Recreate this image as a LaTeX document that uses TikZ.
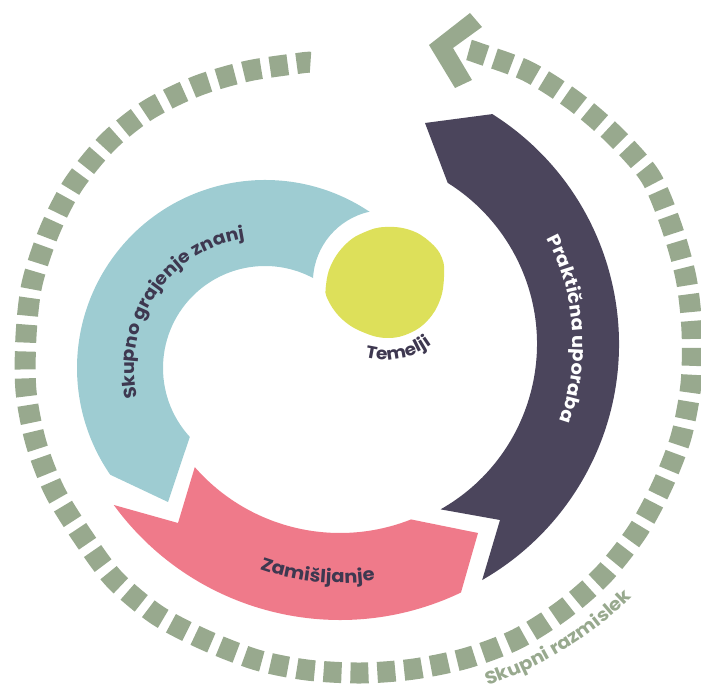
\documentclass[tikz,border=0pt]{standalone}
\usepackage{fontspec}
\newfontfamily\pop{Poppins}[FakeStretch=1.08]
\usetikzlibrary{decorations.text,calc}
\definecolor{sage}{HTML}{98A98E}
\definecolor{darkp}{HTML}{4B455C}
\definecolor{bluec}{HTML}{9ECCD2}
\definecolor{pinkc}{HTML}{EF7A8A}
\definecolor{yel}{HTML}{DDE05A}
\definecolor{txt}{HTML}{3E3850}
\tikzset{
  dashring/.style={draw=sage, line width=10.5pt, dash pattern=on 9pt off 4.45pt},
  curvetext/.style={decorate, decoration={text along path, text align=center, text={#1}}}
}
\begin{document}
\begin{tikzpicture}[x=0.5pt,y=0.5pt]
\useasboundingbox (0,0) rectangle (701,691);
\coordinate (C1) at (347,347);
\coordinate (C2) at (340,351);
\coordinate (C3) at (265,323);
\coordinate (B) at (385,409);
\coordinate (E) at (358.5,327);

% outer dashed arrow
\path[dashring] plot[smooth] coordinates {(469,641) (478,638) (527,620) (573,591) (614,556) (650,515) (671,466) (686,413) (692,360) (691,307) (681,254) (662,205) (637,159) (603,116) (563,81) (517,52) (467,33) (414,22) (361,18) (307,21) (257,31) (205,51) (157,76) (115,111) (85,151) (55,199) (36,248) (26,300) (26,355) (32,407) (49,459) (73,506) (108,549) (148,581) (197,605) (248,620) (301,628) (310.5,628.7)};
\fill[sage] (429,646) -- (470,678) -- (482,664) -- (453,643) -- (472,611) -- (455,603) -- cycle;

% Praktična uporaba (dark)
\fill[darkp] ($(C1)+(57.7:272)$) arc[start angle=57.7, end angle=-60.2, radius=272] -- (500,171) -- ($(C1)+(-60.5:190)$) arc[start angle=-60.5, end angle=58, radius=190] -- (425,568) -- cycle;

% Zamišljanje (pink)
\fill[pinkc] ($(C2)+(-68.4:193)$) arc[start angle=-68.4, end angle=-138.8, radius=193] -- (178,168) -- ($(C2)+(-143.9:280)$) arc[start angle=-143.9, end angle=-64.4, radius=280] -- (478,158) -- cycle;

% Skupno grajenje znanj (blue)
\fill[bluec] ($(C3)+(56.2:188)$) arc[start angle=56.2, end angle=214.6, radius=188] -- (168,189) -- ($(C3)+(222.5:102)$) arc[start angle=222.5, end angle=61.9, radius=102] arc[start angle=176.8, end angle=102.4, radius=72] -- cycle;

% Temelji blob
\fill[yel] plot[smooth cycle, tension=0.7] coordinates {(385,464) (410,461) (430,449) (442,433) (444,414) (440,391) (428,371) (410,358) (388,353) (365,358) (343,371) (328,391) (326,406) (332,428) (347,448) (365,459)};

% texts
\path[curvetext={|\pop\bfseries\fontsize{8.6}{10}\selectfont\color{txt}|Temelji}] ($(B)+(-129:78)$) arc[start angle=-129, end angle=-29, radius=78];
\path[curvetext={|\pop\bfseries\fontsize{8.75}{10}\selectfont\color{txt}|Skupno grajenje znanj}] ($(C3)+(-144:131)$) arc[start angle=-144, end angle=-284, radius=131];
\path[curvetext={|\pop\bfseries\fontsize{9}{10}\selectfont\color{white}|Praktična uporaba}] ($(C1)+(64:226)$) arc[start angle=64, end angle=-56, radius=226];
\path[curvetext={|\pop\bfseries\fontsize{9}{10}\selectfont\color{txt}|Zamišljanje}] ($(C2)+(-125.5:243)$) arc[start angle=-125.5, end angle=-65.5, radius=243];
\path[curvetext={|\pop\bfseries\fontsize{9}{10}\selectfont\color{sage}|Skupni razmislek}] ($(E)+(-81:373 and 343)$) arc[start angle=-81, end angle=-31, x radius=373, y radius=343];
\end{tikzpicture}
\end{document}
